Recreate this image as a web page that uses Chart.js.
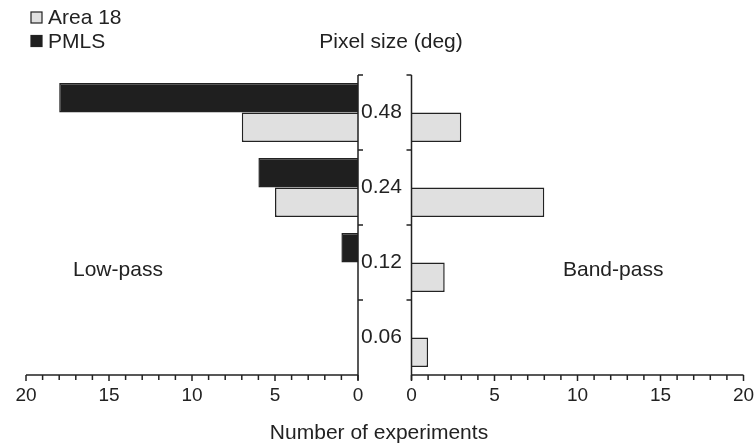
<!DOCTYPE html>
<html>
<head>
<meta charset="utf-8">
<script src="https://cdn.jsdelivr.net/npm/chart.js@4"></script>
<style>
  body { margin: 0; background: #fff; }
  #wrap { position: relative; width: 755px; height: 446px; }
  #wrap canvas { position: absolute; left: 0; top: 0; }
</style>
</head>
<body>
<div id="wrap">
  <canvas id="lowPass" width="755" height="446"></canvas>
  <canvas id="bandPass" width="755" height="446"></canvas>
</div>
<script>
// pixel sizes (deg), top to bottom
const categories = ['0.48', '0.24', '0.12', '0.06'];
// number of experiments per pixel size
const lowPassPMLS = [18, 6, 1, 0];
const lowPassArea18 = [7, 5, 0, 0];
const bandPassPMLS = [0, 0, 0, 0];
const bandPassArea18 = [3, 8, 2, 1];
const countTicks = [0, 5, 10, 15, 20];

const INK = '#222222';
const DARK = '#1f1f1f';
const LIGHT = '#e0e0e0';
const FONT = '"Liberation Sans", Arial, sans-serif';

function makeDatasets(pmls, area18) {
    const bar = {
        borderColor: INK,
        borderWidth: ctx => (ctx.raw ? 1.5 : 0),
        categoryPercentage: 0.787,
        barPercentage: 1.0
    };
    return [
        Object.assign({ label: 'PMLS', data: pmls, backgroundColor: DARK }, bar),
        Object.assign({ label: 'Area 18', data: area18, backgroundColor: LIGHT }, bar)
    ];
}

// draws both axes, tick marks and tick labels from the chart's own scales
const axesPlugin = {
    id: 'axes',
    afterDraw(chart, args, opts) {
        const { ctx, chartArea: a, scales: { x, y } } = chart;
        ctx.save();
        ctx.strokeStyle = INK;
        ctx.fillStyle = INK;
        ctx.lineWidth = 1.5;

        // count axis
        ctx.beginPath();
        ctx.moveTo(a.left, a.bottom);
        ctx.lineTo(a.right, a.bottom);
        for (let v = 0; v <= 20; v++) {
            const px = x.getPixelForValue(v);
            ctx.moveTo(px, a.bottom);
            ctx.lineTo(px, a.bottom + (v % 5 === 0 ? 6 : 5));
        }
        ctx.stroke();

        // pixel size axis
        const x0 = x.getPixelForValue(0);
        const band = y.getPixelForValue(1) - y.getPixelForValue(0);
        ctx.beginPath();
        ctx.moveTo(x0, a.top);
        ctx.lineTo(x0, a.bottom + 5);
        for (let i = 0; i < categories.length; i++) {
            const yy = y.getPixelForValue(i) - band / 2;
            ctx.moveTo(x0, yy);
            ctx.lineTo(x0 + opts.dir * 5, yy);
        }
        ctx.stroke();

        ctx.font = '19px ' + FONT;
        ctx.textAlign = 'center';
        ctx.textBaseline = 'alphabetic';
        countTicks.forEach(v => ctx.fillText(String(v), x.getPixelForValue(v), a.bottom + 26));

        if (opts.labels) {
            ctx.font = '21px ' + FONT;
            ctx.textAlign = 'left';
            categories.forEach((c, i) => ctx.fillText(c, x0 + 3, y.getPixelForValue(i) + 5));
        }

        if (opts.texts) {
            ctx.font = '21px ' + FONT;
            ctx.textAlign = 'center';
            ctx.fillText('Pixel size (deg)', 391, 48);
            ctx.fillText('Number of experiments', 379, 439);
            ctx.textAlign = 'left';
            ctx.fillText('Low-pass', 73, 276);
            ctx.fillText('Band-pass', 563, 276);

            // legend, listing the datasets bottom-up
            const ds = chart.data.datasets.slice().reverse();
            ds.forEach((d, i) => {
                const top = 12 + i * 23.5;
                ctx.fillStyle = d.backgroundColor;
                ctx.fillRect(31, top, 11, 11);
                ctx.lineWidth = 1.2;
                ctx.strokeStyle = INK;
                ctx.strokeRect(31, top, 11, 11);
                ctx.fillStyle = INK;
                ctx.fillText(d.label, 48, top + 12);
            });
        }
        ctx.restore();
    }
};

function makeChart(id, pmls, area18, reverse, padding, pluginOpts) {
    return new Chart(document.getElementById(id).getContext('2d'), {
        type: 'bar',
        data: { labels: categories, datasets: makeDatasets(pmls, area18) },
        options: {
            indexAxis: 'y',
            responsive: false,
            animation: false,
            layout: { padding: padding },
            plugins: {
                legend: { display: false },
                tooltip: { enabled: false },
                axes: pluginOpts
            },
            scales: {
                x: { display: false, min: 0, max: 20, reverse: reverse },
                y: { display: false, offset: true }
            }
        },
        plugins: [axesPlugin]
    });
}

makeChart('lowPass', lowPassPMLS, lowPassArea18, true,
    { left: 26, right: 397, top: 75, bottom: 71 },
    { dir: 1, labels: true, texts: true });
makeChart('bandPass', bandPassPMLS, bandPassArea18, false,
    { left: 411.5, right: 11.5, top: 75, bottom: 71 },
    { dir: -1, labels: false, texts: false });
</script>
</body>
</html>
